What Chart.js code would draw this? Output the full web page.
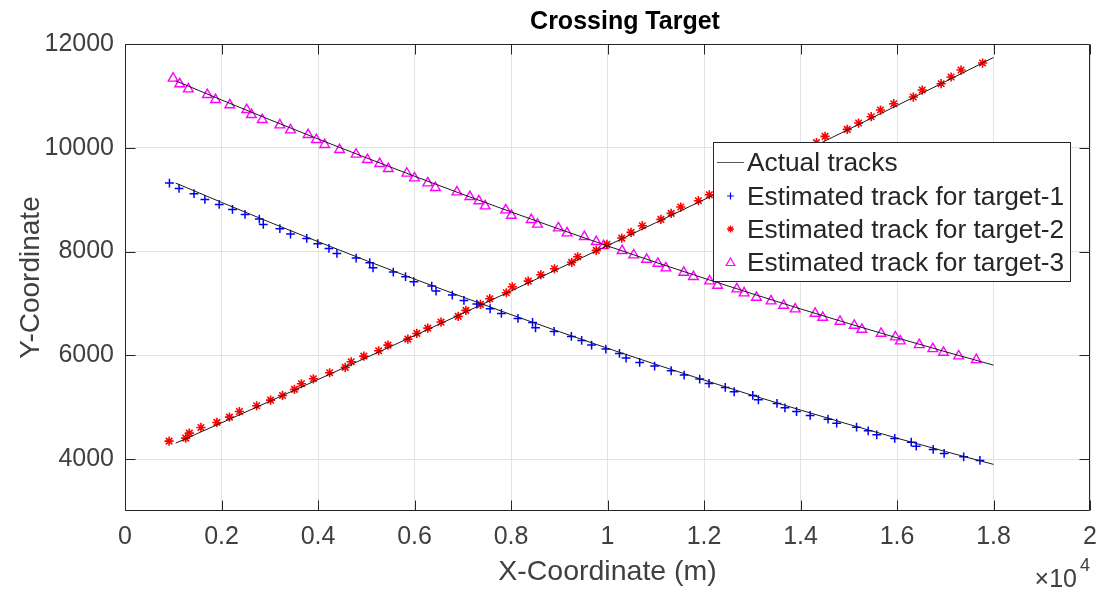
<!DOCTYPE html>
<html><head><meta charset="utf-8">
<script src="https://cdn.jsdelivr.net/npm/chart.js@4"></script>
<style>html,body{margin:0;padding:0;background:#fff}#wrap{width:1108px;height:590px}</style>
</head><body><div id="wrap"><canvas id="c" width="1108" height="590"></canvas></div>
<script>
const titleText = 'Crossing Target';
const xLabel = 'X-Coordinate (m)';
const yLabel = 'Y-Coordinate';
const legendLabels = ['Actual tracks', 'Estimated track for target-1', 'Estimated track for target-2', 'Estimated track for target-3'];
const xTicks = [0, 2000, 4000, 6000, 8000, 10000, 12000, 14000, 16000, 18000, 20000];
const yTicks = [4000, 6000, 8000, 10000, 12000];

const trackX = [1050, 2000, 3000, 4000, 5000, 6000, 7000, 8000, 9000, 10000, 11000, 12000, 13000, 14000, 15000, 16000, 17000, 18000];
const track1Y = [9320, 8948, 8565, 8191, 7826, 7470, 7124, 6785, 6456, 6136, 5825, 5523, 5229, 4945, 4670, 4404, 4147, 3898];
const track2Y = [4308, 4699, 5115, 5533, 5955, 6380, 6809, 7241, 7676, 8114, 8556, 9001, 9449, 9900, 10356, 10814, 11275, 11740];
const track3Y = [11290, 10922, 10542, 10170, 9807, 9451, 9103, 8764, 8432, 8109, 7793, 7486, 7187, 6895, 6612, 6337, 6070, 5811];

const est1X = [921,1120,1430,1656,1952,2227,2488,2784,2866,3210,3430,3766,3993,4227,4392,4790,5072,5140,5560,5814,5986,6357,6446,6783,7024,7292,7567,7800,8144,8446,8508,8893,9251,9464,9670,9965,10247,10385,10666,10976,11319,11587,11910,12103,12440,12625,13010,13127,13512,13677,13917,14199,14570,14749,15161,15402,15580,15952,16295,16398,16749,16976,17381,17718];
const est1Y = [9320,9217,9115,9005,8909,8812,8716,8626,8523,8440,8337,8254,8151,8061,7964,7874,7785,7688,7605,7515,7418,7335,7238,7161,7058,6988,6898,6808,6711,6634,6532,6461,6365,6287,6197,6120,6037,5947,5863,5793,5703,5619,5542,5458,5381,5298,5227,5144,5073,4989,4918,4841,4770,4693,4616,4546,4468,4398,4327,4250,4186,4109,4045,3974];

const est2X = [914,1258,1333,1574,1904,2165,2371,2729,3017,3265,3512,3656,3904,4241,4564,4688,4949,5257,5450,5862,6048,6275,6549,6906,7065,7367,7560,7903,8027,8357,8618,8900,9257,9381,9766,9986,10295,10488,10721,11106,11319,11518,11883,12110,12390,12660,12940,13220,13500,13770,14050,14330,14508,14969,15203,15464,15656,15931,16337,16522,16914,17120,17326,17773];
const est2Y = [4346,4405,4501,4610,4707,4809,4918,5028,5137,5227,5343,5452,5548,5664,5767,5876,5985,6088,6197,6313,6422,6525,6641,6750,6866,6981,7091,7206,7322,7431,7553,7669,7791,7900,8022,8138,8260,8369,8498,8620,8736,8858,8980,9095,9220,9345,9470,9595,9720,9845,9970,10098,10220,10355,10477,10599,10727,10849,10978,11113,11235,11364,11498,11633];

const est3X = [997,1134,1313,1705,1876,2172,2522,2619,2845,3210,3430,3794,3966,4138,4447,4790,5024,5278,5457,5841,5999,6275,6433,6879,7147,7333,7464,7890,8007,8419,8549,8982,9161,9519,9766,9917,10302,10543,10811,11044,11209,11580,11780,12117,12281,12680,12831,13086,13388,13649,13890,14302,14460,14818,15113,15271,15670,15965,16069,16460,16742,16962,17278,17642];
const est3Y = [11338,11229,11132,11023,10927,10824,10734,10638,10541,10438,10342,10252,10156,10059,9963,9873,9770,9693,9597,9507,9417,9320,9231,9147,9057,8974,8877,8800,8697,8614,8524,8453,8357,8286,8189,8112,8016,7932,7849,7772,7682,7598,7515,7431,7348,7277,7200,7116,7046,6962,6891,6807,6730,6653,6576,6499,6422,6351,6274,6203,6126,6056,5985,5914];

const FONT = "'Liberation Sans', Arial, Helvetica, sans-serif";
Chart.defaults.font.family = FONT;

const pts = (xs, ys) => xs.map((x, i) => ({x: x, y: ys[i]}));
const lineDs = (ys) => ({
  data: pts(trackX, ys), showLine: true, pointRadius: 0, borderColor: '#1a1a1a',
  borderWidth: 1, cubicInterpolationMode: 'monotone', fill: false
});
const markerStyles = [
  {pointStyle: 'cross', radius: 4.4, color: '#0000ff', width: 1.5},
  {pointStyle: 'star', radius: 4.6, color: '#ff0000', width: 1.6},
  {pointStyle: 'triangle', radius: 5.6, color: '#ff00ff', width: 1.4}
];
const markDs = (xs, ys, s) => ({
  data: pts(xs, ys), showLine: false, pointStyle: s.pointStyle, pointRadius: s.radius,
  pointBorderColor: s.color, pointBackgroundColor: 'rgba(0,0,0,0)', pointBorderWidth: s.width,
  borderColor: s.color
});

function drawGlyph(ctx, s, x, y) {
  ctx.save();
  ctx.strokeStyle = s.color; ctx.lineWidth = s.width;
  const r = s.radius;
  ctx.beginPath();
  if (s.pointStyle === 'cross' || s.pointStyle === 'star') {
    ctx.moveTo(x - r, y); ctx.lineTo(x + r, y);
    ctx.moveTo(x, y - r); ctx.lineTo(x, y + r);
    if (s.pointStyle === 'star') {
      const d = r * Math.SQRT1_2;
      ctx.moveTo(x - d, y - d); ctx.lineTo(x + d, y + d);
      ctx.moveTo(x - d, y + d); ctx.lineTo(x + d, y - d);
    }
  } else {
    for (let k = 0; k < 3; k++) {
      const a = k * 2 * Math.PI / 3;
      const px = x + Math.sin(a) * r, py = y - Math.cos(a) * r;
      if (k === 0) ctx.moveTo(px, py); else ctx.lineTo(px, py);
    }
    ctx.closePath();
  }
  ctx.stroke();
  ctx.restore();
}

const framePlugin = {
  id: 'matlabFrame',
  afterDraw(chart) {
    const {ctx, chartArea: a, scales} = chart;
    const sx = scales.x, sy = scales.y;
    ctx.save();
    const L = Math.round(a.left) + 0.5, R = Math.round(a.right) - 0.5;
    const T = Math.round(a.top) + 0.5, B = Math.round(a.bottom) - 0.5;
    ctx.strokeStyle = '#262626'; ctx.lineWidth = 1;
    ctx.beginPath();
    ctx.rect(L, T, R - L, B - T);
    const tl = 10;
    sx.ticks.forEach(t => {
      const p = Math.round(sx.getPixelForValue(t.value)) + 0.5;
      ctx.moveTo(p, B); ctx.lineTo(p, B - tl);
      ctx.moveTo(p, T); ctx.lineTo(p, T + tl);
    });
    sy.ticks.forEach(t => {
      const p = Math.round(sy.getPixelForValue(t.value)) + 0.5;
      ctx.moveTo(L, p); ctx.lineTo(L + tl, p);
      ctx.moveTo(R, p); ctx.lineTo(R - tl, p);
    });
    ctx.stroke();

    // title, centred a little right of the axes centre as in the reference
    ctx.fillStyle = '#000000';
    ctx.font = 'bold 25px ' + FONT;
    ctx.textAlign = 'center'; ctx.textBaseline = 'alphabetic';
    ctx.fillText(titleText, 625, 29);

    // legend box (inside the axes, over the data)
    const bx = 713.5, by = 142.5, bw = 357, bh = 139;
    ctx.fillStyle = '#ffffff';
    ctx.fillRect(bx, by, bw, bh);
    ctx.strokeStyle = '#262626';
    ctx.strokeRect(bx, by, bw, bh);
    const rows = [171, 205, 238, 271];
    const cy = rows.map(r => r - 9);
    ctx.strokeStyle = '#555555'; ctx.lineWidth = 1;
    ctx.beginPath(); ctx.moveTo(717, cy[0] + 0.5); ctx.lineTo(744, cy[0] + 0.5); ctx.stroke();
    drawGlyph(ctx, {pointStyle: 'cross', radius: 3.4, color: '#0000ff', width: 1.2}, 730.5, cy[1]);
    drawGlyph(ctx, {pointStyle: 'star', radius: 3.4, color: '#ff0000', width: 1.3}, 730.5, cy[2]);
    drawGlyph(ctx, {pointStyle: 'triangle', radius: 5, color: '#ff00ff', width: 1.2}, 730.5, cy[3] + 1);
    ctx.fillStyle = '#262626';
    ctx.font = '26.3px ' + FONT;
    ctx.textAlign = 'left';
    legendLabels.forEach((t, i) => ctx.fillText(t, 747, rows[i]));

    // x10^4 exponent label
    ctx.fillStyle = '#404040';
    ctx.font = '25px ' + FONT;
    ctx.textAlign = 'right';
    ctx.fillText('\u00d710', 1077, 587);
    ctx.font = '18px ' + FONT;
    ctx.textAlign = 'left';
    ctx.fillText('4', 1080, 571);
    ctx.restore();
  }
};

const fmtX = v => String(Math.round(v / 1000) / 10);

new Chart(document.getElementById('c'), {
  type: 'scatter',
  data: {
    datasets: [
      lineDs(track1Y), lineDs(track2Y), lineDs(track3Y),
      markDs(est1X, est1Y, markerStyles[0]),
      markDs(est2X, est2Y, markerStyles[1]),
      markDs(est3X, est3Y, markerStyles[2])
    ]
  },
  options: {
    responsive: false, animation: false, devicePixelRatio: 1,
    layout: {padding: {left: 0, right: 13, top: 44, bottom: 0}},
    plugins: {
      legend: {display: false},
      tooltip: {enabled: false},
      title: {display: false}
    },
    scales: {
      x: {
        type: 'linear', min: 0, max: 20000,
        afterBuildTicks: s => { s.ticks = xTicks.map(v => ({value: v})); },
        afterFit: s => { s.height = 79; },
        ticks: {callback: v => fmtX(v), color: '#404040', font: {size: 25, lineHeight: 1.2},
          padding: 11, maxRotation: 0, autoSkip: false},
        grid: {color: '#e3e3e3', lineWidth: 1, drawTicks: false},
        border: {display: false},
        title: {display: true, text: xLabel, color: '#404040',
          font: {size: 28.5, lineHeight: 1.2}, padding: {top: 0, bottom: 1}}
      },
      y: {
        type: 'linear', min: 3000, max: 12000,
        afterBuildTicks: s => { s.ticks = yTicks.map(v => ({value: v})); },
        afterFit: s => { s.width = 125; },
        ticks: {callback: v => String(v), color: '#404040', font: {size: 25, lineHeight: 1.2},
          padding: 11, autoSkip: false},
        grid: {color: '#e3e3e3', lineWidth: 1, drawTicks: false},
        border: {display: false},
        title: {display: true, text: yLabel, color: '#404040',
          font: {size: 28, lineHeight: 1.2}, padding: {top: 14, bottom: 0}}
      }
    }
  },
  plugins: [framePlugin]
});
</script></body></html>
